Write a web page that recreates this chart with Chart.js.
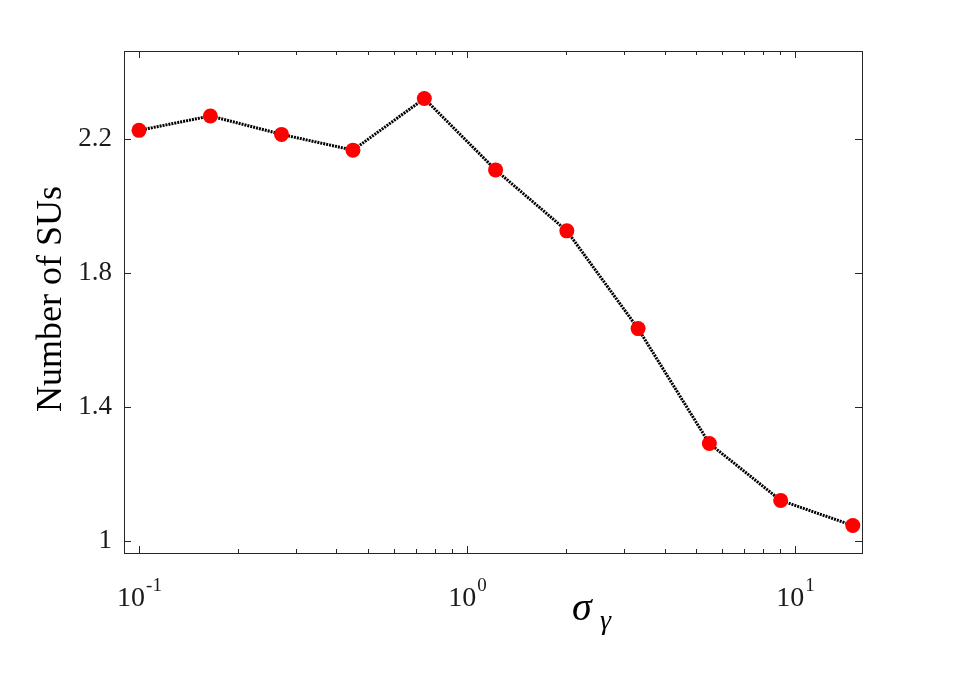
<!DOCTYPE html>
<html>
<head>
<meta charset="utf-8">
<script src="https://cdn.jsdelivr.net/npm/chart.js@4.4.1/dist/chart.umd.min.js"></script>
<style>
  html, body { margin: 0; padding: 0; background: #fff; }
  #wrap { width: 953px; height: 677px; }
</style>
</head>
<body>
<div id="wrap"><canvas id="suChart" width="953" height="677"></canvas></div>
<script>
// Data
const sigmaGamma = [0.1, 0.165, 0.272, 0.449, 0.741, 1.222, 2.015, 3.323, 5.48, 9.04, 15.0];
const numSUs = [2.225, 2.268, 2.213, 2.166, 2.320, 2.107, 1.925, 1.633, 1.290, 1.120, 1.045];
const yTicks = [1, 1.4, 1.8, 2.2];
const xMajorTicks = [0.1, 1, 10];
const xMinorTicks = [0.2, 0.3, 0.4, 0.5, 0.6, 0.7, 0.8, 0.9, 2, 3, 4, 5, 6, 7, 8, 9];
const xTickExps = ['-1', '0', '1'];

const points = sigmaGamma.map((x, i) => ({ x: x, y: numSUs[i] }));

// box, inward ticks, log tick labels and axis titles
const framePlugin = {
    id: 'frame',
    afterDraw(chart) {
        const ctx = chart.ctx;
        const a = chart.chartArea;
        const xs = chart.scales.x;
        const ys = chart.scales.y;
        ctx.save();
        ctx.strokeStyle = '#262626';
        ctx.lineWidth = 1;
        ctx.strokeRect(a.left + 0.5, a.top + 0.5, a.right - a.left, a.bottom - a.top);

        ctx.beginPath();
        xMajorTicks.forEach(v => {
            const px = Math.round(xs.getPixelForValue(v)) + 0.5;
            ctx.moveTo(px, a.bottom); ctx.lineTo(px, a.bottom - 7);
            ctx.moveTo(px, a.top); ctx.lineTo(px, a.top + 7);
        });
        xMinorTicks.forEach(v => {
            const px = Math.round(xs.getPixelForValue(v)) + 0.5;
            ctx.moveTo(px, a.bottom); ctx.lineTo(px, a.bottom - 4);
            ctx.moveTo(px, a.top); ctx.lineTo(px, a.top + 4);
        });
        yTicks.forEach(v => {
            const py = Math.round(ys.getPixelForValue(v)) + 0.5;
            ctx.moveTo(a.left, py); ctx.lineTo(a.left + 7, py);
            ctx.moveTo(a.right, py); ctx.lineTo(a.right - 7, py);
        });
        ctx.stroke();

        // x tick labels 10^n
        ctx.fillStyle = '#1a1a1a';
        ctx.textBaseline = 'alphabetic';
        ctx.textAlign = 'left';
        xMajorTicks.forEach((v, i) => {
            const px = xs.getPixelForValue(v);
            ctx.font = '28px "Liberation Serif"';
            const wBase = ctx.measureText('10').width;
            ctx.font = '19px "Liberation Serif"';
            const wExp = ctx.measureText(xTickExps[i]).width;
            const left = px - (wBase + wExp) / 2;
            ctx.font = '28px "Liberation Serif"';
            ctx.fillText('10', left, 606);
            ctx.font = '19px "Liberation Serif"';
            ctx.fillText(xTickExps[i], left + wBase + 1, 591);
        });

        // x title: sigma_gamma
        ctx.fillStyle = '#000';
        ctx.font = 'italic 40px "Liberation Serif"';
        ctx.fillText('σ', 572, 620);
        ctx.font = 'italic 28px "Liberation Serif"';
        ctx.fillText('γ', 600, 629);

        // y title
        ctx.translate(61, (185 + 413) / 2);
        ctx.rotate(-Math.PI / 2);
        ctx.textAlign = 'center';
        ctx.font = '36px "Liberation Serif"';
        ctx.fillText('Number of SUs', 0, 0);
        ctx.restore();
    }
};

const ctx = document.getElementById('suChart').getContext('2d');
new Chart(ctx, {
    type: 'line',
    data: {
        datasets: [{
            data: points,
            borderColor: '#000',
            borderWidth: 3,
            borderDash: [2, 1],
            pointRadius: 7.5,
            pointBackgroundColor: '#ff0000',
            pointBorderColor: '#ff0000',
            pointBorderWidth: 0,
            tension: 0,
            fill: false
        }]
    },
    options: {
        responsive: false,
        animation: false,
        layout: { padding: { left: 0, top: 51, right: 91, bottom: 0 } },
        plugins: { legend: { display: false }, tooltip: { enabled: false } },
        scales: {
            x: {
                type: 'logarithmic',
                min: 0.09,
                max: 16,
                grid: { display: false },
                border: { display: false },
                ticks: { display: false },
                afterFit(scale) { scale.height = 124; }
            },
            y: {
                type: 'linear',
                min: 0.963,
                max: 2.462,
                grid: { display: false },
                border: { display: false },
                afterBuildTicks(scale) { scale.ticks = yTicks.map(v => ({ value: v })); },
                ticks: {
                    padding: 4,
                    color: '#1a1a1a',
                    font: { family: 'Liberation Serif', size: 27 },
                    callback: v => String(v)
                },
                afterFit(scale) { scale.width = 124; }
            }
        }
    },
    plugins: [framePlugin]
});
</script>
</body>
</html>
